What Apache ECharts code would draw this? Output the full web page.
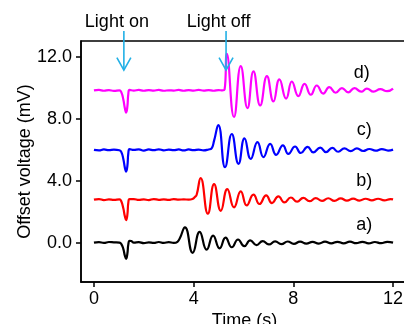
<!DOCTYPE html>
<html>
<head>
<meta charset="utf-8">
<script src="https://cdn.jsdelivr.net/npm/echarts@6/dist/echarts.min.js"></script>
<style>html,body{margin:0;padding:0;background:#fff;}#c{width:404px;height:324px;}</style>
</head>
<body>
<div id="c"></div>
<script>
// ---- data (time in s, offset voltage in mV) ----
const xTicks = [0, 4, 8, 12];
const yTicks = [0, 4, 8, 12];
const seriesNames = ['a)', 'b)', 'c)', 'd)'];
const seriesColors = ['#000000', '#ff0000', '#0000ff', '#ff00ff'];

const traceA = [[0,0.0],[0.2,0.03],[0.4,-0.02],[0.6,0.04],[0.8,0.02],[1.02,0.0],[1.1,-0.1],[1.18,-0.42],[1.24,-0.85],[1.29,-1.05],[1.34,-0.72],[1.38,-0.1],[1.43,0.12],[1.5,0.1],[1.6,0.0],[1.8,0.03],[2.0,-0.03],[2.2,0.02],[2.4,-0.02],[2.6,0.04],[2.8,-0.02],[3.0,0.03],[3.2,-0.02],[3.35,0.05],[3.45,0.3],[3.65,0.99],[3.96,-0.66],[4.24,0.7],[4.52,-0.46],[4.78,0.45],[5.04,-0.37],[5.28,0.32],[5.53,-0.3],[5.78,0.2],[6.03,-0.23],[6.27,0.14],[6.52,-0.16],[6.77,0.1],[7.02,-0.12],[7.27,0.08],[7.52,-0.1],[7.77,0.07],[8.02,-0.08],[8.27,0.06],[8.52,-0.07],[8.77,0.05],[9.02,-0.06],[9.27,0.06],[9.52,-0.05],[9.77,0.05],[10.02,-0.05],[10.27,0.06],[10.52,-0.04],[10.77,0.05],[11.02,-0.05],[11.27,0.04],[11.52,-0.04],[11.77,0.05],[12.0,0.0]];

const traceB = [[0,2.78],[0.2,2.82],[0.4,2.75],[0.6,2.8],[0.8,2.76],[1.02,2.8],[1.1,2.66],[1.18,2.2],[1.24,1.7],[1.29,1.45],[1.34,1.8],[1.38,2.6],[1.43,2.82],[1.6,2.82],[1.8,2.76],[2.0,2.8],[2.2,2.75],[2.4,2.82],[2.6,2.77],[2.8,2.8],[3.0,2.76],[3.2,2.82],[3.4,2.78],[3.6,2.8],[3.8,2.78],[3.95,2.82],[4.05,2.95],[4.12,3.1],[4.28,4.17],[4.57,1.87],[4.82,3.79],[5.09,2.06],[5.35,3.46],[5.62,2.28],[5.89,3.32],[6.13,2.41],[6.4,3.1],[6.64,2.5],[6.91,3.06],[7.14,2.56],[7.4,2.99],[7.64,2.6],[7.9,2.92],[8.15,2.65],[8.4,2.9],[8.65,2.68],[8.9,2.88],[9.15,2.7],[9.4,2.87],[9.65,2.7],[9.9,2.86],[10.15,2.72],[10.4,2.85],[10.65,2.72],[10.9,2.84],[11.15,2.73],[11.4,2.84],[11.65,2.74],[11.9,2.82],[12.0,2.8]];

const traceC = [[0,6.0],[0.2,5.97],[0.4,6.03],[0.6,5.98],[0.8,6.02],[1.02,5.98],[1.1,5.86],[1.18,5.4],[1.24,4.85],[1.29,4.6],[1.34,4.95],[1.38,5.8],[1.43,6.05],[1.6,6.0],[1.8,6.04],[2.0,5.96],[2.2,6.03],[2.4,5.98],[2.6,6.04],[2.8,5.97],[3.0,6.02],[3.2,5.98],[3.4,6.03],[3.6,5.97],[3.8,6.03],[4.0,5.98],[4.2,6.02],[4.4,5.97],[4.6,6.03],[4.72,6.1],[4.82,6.6],[4.99,7.61],[5.26,4.88],[5.53,7.03],[5.8,5.1],[6.04,6.75],[6.29,5.42],[6.56,6.5],[6.8,5.53],[7.07,6.39],[7.31,5.68],[7.58,6.3],[7.8,5.74],[8.07,6.22],[8.3,5.8],[8.57,6.2],[8.8,5.84],[9.08,6.15],[9.31,5.86],[9.56,6.13],[9.8,5.88],[10.05,6.1],[10.3,5.92],[10.55,6.1],[10.8,5.93],[11.05,6.06],[11.3,5.95],[11.55,6.05],[11.8,5.96],[12.0,6.02]];

const traceD = [[0,9.85],[0.2,9.88],[0.4,9.83],[0.6,9.87],[0.8,9.82],[1.02,9.86],[1.1,9.72],[1.18,9.25],[1.24,8.7],[1.29,8.42],[1.34,8.8],[1.38,9.65],[1.43,9.88],[1.6,9.84],[1.8,9.88],[2.0,9.83],[2.2,9.87],[2.4,9.84],[2.6,9.88],[2.8,9.83],[3.0,9.86],[3.2,9.84],[3.4,9.88],[3.6,9.83],[3.8,9.87],[4.0,9.84],[4.2,9.88],[4.4,9.84],[4.6,9.87],[4.8,9.83],[5.0,9.87],[5.15,9.85],[5.24,9.9],[5.33,12.22],[5.62,8.13],[5.89,11.42],[6.16,8.71],[6.4,11.08],[6.67,8.88],[6.94,10.77],[7.2,9.14],[7.44,10.56],[7.71,9.32],[7.94,10.43],[8.2,9.48],[8.45,10.28],[8.7,9.57],[8.94,10.17],[9.2,9.65],[9.44,10.06],[9.7,9.7],[9.95,10.0],[10.2,9.73],[10.45,10.0],[10.72,9.77],[10.95,9.97],[11.22,9.77],[11.49,9.93],[11.76,9.8],[12.0,9.97]];

const traces = [traceA, traceB, traceC, traceD];

// trace label anchor positions (data coords)
const labelTimes = [10.84, 10.84, 10.84, 10.74];
const labelValues = [1.15, 3.99, 7.29, 10.98];

// annotations
const annotationTexts = ['Light on', 'Light off'];
const annotationTextTimes = [0.92, 5.0];
const arrowTimes = [1.2, 5.3];
const arrowTopValue = 13.7;
const arrowTipValue = 11.17;
const annotationTextValue = 14.28;

const FONT = '"Liberation Sans", Arial, Helvetica, sans-serif';
const FS = 18;

const chart = echarts.init(document.getElementById('c'), null, {renderer: 'canvas'});
const option = {
  animation: false,
  backgroundColor: '#ffffff',
  textStyle: {fontFamily: FONT},
  grid: {left: 81, top: 41, width: 327, height: 241, show: true, borderColor: '#000', borderWidth: 1.5, containLabel: false, outerBoundsMode: 'none'},
  xAxis: {
    type: 'value', min: -0.52, max: 12.6,
    name: 'Time (s)', nameLocation: 'middle', nameGap: 30, nameMoveOverlap: false,
    nameTextStyle: {fontSize: FS, color: '#000', fontFamily: FONT},
    axisLine: {show: true, onZero: false, lineStyle: {color: '#000', width: 1.5}},
    axisTick: {show: true, length: 5, lineStyle: {color: '#000', width: 1.5}, customValues: xTicks},
    axisLabel: {show: true, fontSize: FS, color: '#000', margin: 8, fontFamily: FONT, customValues: xTicks, formatter: v => String(Math.round(v))},
    splitLine: {show: false}
  },
  yAxis: {
    type: 'value', min: -2.55, max: 13.05,
    name: 'Offset voltage (mV)', nameLocation: 'middle', nameGap: 47, nameRotate: 90, nameMoveOverlap: false,
    nameTextStyle: {fontSize: FS, color: '#000', fontFamily: FONT},
    axisLine: {show: true, onZero: false, lineStyle: {color: '#000', width: 1.5}},
    axisTick: {show: true, length: 5, lineStyle: {color: '#000', width: 1.5}, customValues: yTicks},
    axisLabel: {show: true, fontSize: FS, color: '#000', margin: 9, fontFamily: FONT, customValues: yTicks, formatter: v => v.toFixed(1)},
    splitLine: {show: false}
  },
  series: traces.map((d, i) => ({
    type: 'line', name: seriesNames[i], data: d, smooth: 0.5, showSymbol: false,
    lineStyle: {color: seriesColors[i], width: 2.2}, itemStyle: {color: seriesColors[i]}, clip: false
  }))
};
chart.setOption(option);

const g = [];
for (let i = 0; i < traces.length; i++) {
  const p = chart.convertToPixel({gridIndex: 0}, [labelTimes[i], labelValues[i]]);
  g.push({type: 'text', x: p[0], y: p[1], style: {text: seriesNames[i], fill: '#000', font: FS + 'px ' + FONT, align: 'center', verticalAlign: 'middle'}});
}
for (let i = 0; i < arrowTimes.length; i++) {
  const tp = chart.convertToPixel({gridIndex: 0}, [annotationTextTimes[i], annotationTextValue]);
  g.push({type: 'text', x: tp[0], y: tp[1], style: {text: annotationTexts[i], fill: '#000', font: FS + 'px ' + FONT, align: 'center', verticalAlign: 'middle'}});
  const top = chart.convertToPixel({gridIndex: 0}, [arrowTimes[i], arrowTopValue]);
  const tip = chart.convertToPixel({gridIndex: 0}, [arrowTimes[i], arrowTipValue]);
  g.push({type: 'line', z: 100, shape: {x1: top[0], y1: top[1], x2: tip[0], y2: tip[1]}, style: {stroke: '#22b0e6', lineWidth: 1.6}});
  g.push({type: 'polyline', z: 100, shape: {points: [[tip[0] - 7, tip[1] - 12.5], [tip[0], tip[1]], [tip[0] + 7, tip[1] - 12.5]]}, style: {stroke: '#22b0e6', lineWidth: 1.6, fill: null}});
}
chart.setOption({graphic: g});
</script>
</body>
</html>
